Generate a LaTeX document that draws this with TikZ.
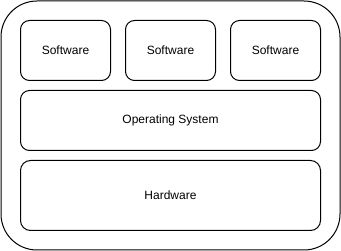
\documentclass[tikz,border=0pt]{standalone}
\usepackage{fontspec}
\setmainfont{Liberation Sans}
\usetikzlibrary{positioning}

\begin{document}
\begin{tikzpicture}[x=1pt, y=-1pt, node distance=10pt and 15pt,
  every node/.style={font=\fontsize{12}{14}\selectfont},
  layer/.style={draw, line width=1pt, rounded corners=9pt, inner sep=0pt, outer sep=0pt, minimum height=60pt}]
  \useasboundingbox (0,0) rectangle (341,251);
  % the machine around the layers
  \draw[line width=1pt, rounded corners=36pt] (1,1) rectangle (340,250);
  \node[layer, minimum width=90pt, anchor=north west] (app1) at (20.5,20.5) {Software};
  \node[layer, minimum width=90pt, right=of app1] (app2) {Software};
  \node[layer, minimum width=90pt, right=of app2] (app3) {Software};
  \node[layer, minimum width=300pt, below=of app1.south west, anchor=north west] (os) {Operating System};
  \node[layer, minimum width=300pt, minimum height=70pt, rounded corners=10pt, below=of os.south west, anchor=north west] (hw) {Hardware};
\end{tikzpicture}
\end{document}
